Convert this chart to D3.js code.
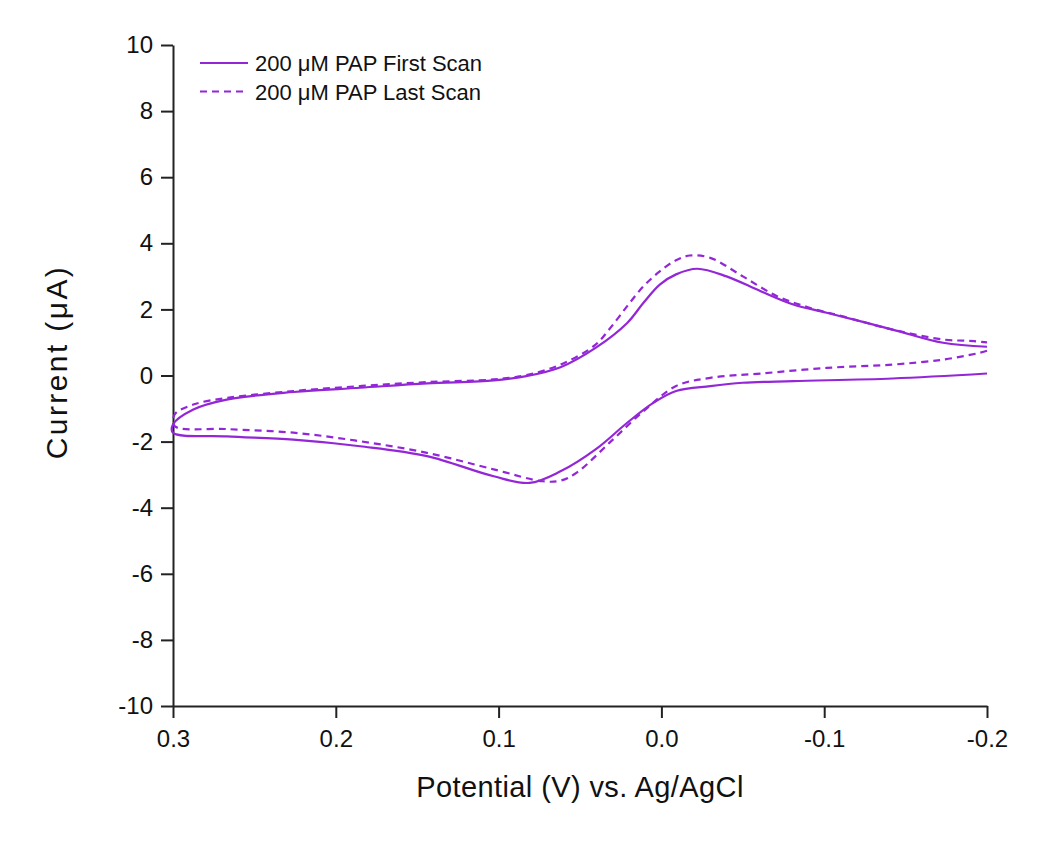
<!DOCTYPE html>
<html>
<head>
<meta charset="utf-8">
<script src="https://cdn.jsdelivr.net/npm/d3@7"></script>
<style>
  body { margin: 0; background: #fff; }
  text { font-family: Arial, "Liberation Sans", sans-serif; fill: #111; }
</style>
</head>
<body>
<svg id="chart" width="1054" height="855"></svg>
<script>
// potential (V) and current (uA)
// first scan: cathodic branch (-0.2 -> 0.3) then anodic branch (0.3 -> -0.2)
var firstE = [-0.2, -0.142, -0.081, -0.05, -0.03, -0.009, 0.005, 0.021, 0.04, 0.062, 0.081, 0.103, 0.144, 0.185, 0.226, 0.267, 0.3,
              0.3, 0.2875, 0.267, 0.226, 0.185, 0.144, 0.103, 0.083, 0.062, 0.04, 0.021, 0.011, 0.001, -0.009, -0.022, -0.04, -0.061, -0.081, -0.1015, -0.142, -0.173, -0.2];
var firstI = [0.06, -0.09, -0.17, -0.22, -0.32, -0.47, -0.83, -1.43, -2.22, -2.9, -3.25, -3.05, -2.44, -2.14, -1.94, -1.84, -1.73,
              -1.48, -1.03, -0.73, -0.5, -0.37, -0.24, -0.15, -0.02, 0.25, 0.85, 1.59, 2.2, 2.75, 3.06, 3.23, 3.0, 2.55, 2.15, 1.9, 1.39, 0.99, 0.87];
// last scan
var lastE = [-0.2, -0.194, -0.173, -0.142, -0.1015, -0.061, -0.03, -0.009, 0.011, 0.032, 0.052, 0.062, 0.073, 0.103, 0.144, 0.185, 0.226, 0.267, 0.299,
             0.299, 0.2875, 0.267, 0.226, 0.185, 0.144, 0.103, 0.083, 0.062, 0.041, 0.032, 0.021, 0.011, 0.001, -0.009, -0.0175, -0.03, -0.05, -0.071, -0.091, -0.112, -0.142, -0.173, -0.192, -0.2];
var lastI = [0.75, 0.67, 0.48, 0.33, 0.23, 0.06, -0.07, -0.32, -1.08, -2.04, -2.94, -3.18, -3.2, -2.84, -2.34, -1.99, -1.73, -1.62, -1.53,
             -1.18, -0.88, -0.68, -0.47, -0.32, -0.2, -0.12, 0.01, 0.33, 0.91, 1.4, 2.1, 2.7, 3.15, 3.49, 3.63, 3.56, 3.0, 2.4, 2.05, 1.78, 1.39, 1.09, 1.04, 1.0];

var seriesNames = ["200 \u03bcM PAP First Scan", "200 \u03bcM PAP Last Scan"];
var xTicks = [0.3, 0.2, 0.1, 0.0, -0.1, -0.2];
var yTicks = [10, 8, 6, 4, 2, 0, -2, -4, -6, -8, -10];

var color = "#9326d6";
var svg = d3.select("#chart");

var x = d3.scaleLinear().domain([0.3, -0.2]).range([173, 987]);
var y = d3.scaleLinear().domain([-10, 10]).range([706, 45]);

// plain hyphen minus, like the original
var fmtX = function (d) { return d === 0 ? "0.0" : d.toFixed(1); };
var fmtY = function (d) { return String(d); };

// axes
var xAxis = svg.append("g").attr("transform", "translate(0,706)")
    .call(d3.axisBottom(x).tickValues(xTicks).tickFormat(fmtX).tickSize(12).tickPadding(12).tickSizeOuter(0));
var yAxis = svg.append("g").attr("transform", "translate(173,0)")
    .call(d3.axisLeft(y).tickValues(yTicks).tickFormat(fmtY).tickSize(12).tickPadding(8).tickSizeOuter(0));

[xAxis, yAxis].forEach(function (g) {
    g.attr("font-size", null).attr("font-family", null);
    g.selectAll("path.domain").attr("stroke", "#222").attr("stroke-width", 2);
    g.selectAll(".tick line").attr("stroke", "#222").attr("stroke-width", 2);
    g.selectAll(".tick text").attr("font-size", 24).attr("fill", "#111");
});

// curves
var line = d3.line()
    .x(function (d) { return x(d[0]); })
    .y(function (d) { return y(d[1]); })
    .curve(d3.curveCatmullRom.alpha(0.5));

var firstData = firstE.map(function (e, i) { return [e, firstI[i]]; });
var lastData = lastE.map(function (e, i) { return [e, lastI[i]]; });

svg.append("path").datum(lastData).attr("d", line)
    .attr("fill", "none").attr("stroke", color).attr("stroke-width", 2.2)
    .attr("stroke-dasharray", "7,5");
svg.append("path").datum(firstData).attr("d", line)
    .attr("fill", "none").attr("stroke", color).attr("stroke-width", 2.2);

// axis titles
svg.append("text").attr("x", 580).attr("y", 797).attr("text-anchor", "middle")
    .attr("font-size", 29).attr("letter-spacing", 0.4).text("Potential (V) vs. Ag/AgCl");
svg.append("text").attr("transform", "translate(67,362) rotate(-90)").attr("text-anchor", "middle")
    .attr("font-size", 30).attr("letter-spacing", 2.4).text("Current (\u03bcA)");

// legend
var legend = svg.append("g");
seriesNames.forEach(function (name, i) {
    var ly = 63 + i * 28.5;
    legend.append("line").attr("x1", 200).attr("x2", 248).attr("y1", ly).attr("y2", ly)
        .attr("stroke", color).attr("stroke-width", 2.2)
        .attr("stroke-dasharray", i === 1 ? "7,5" : null);
    legend.append("text").attr("x", 255).attr("y", ly + 8).attr("font-size", 22).text(name);
});
</script>
</body>
</html>
